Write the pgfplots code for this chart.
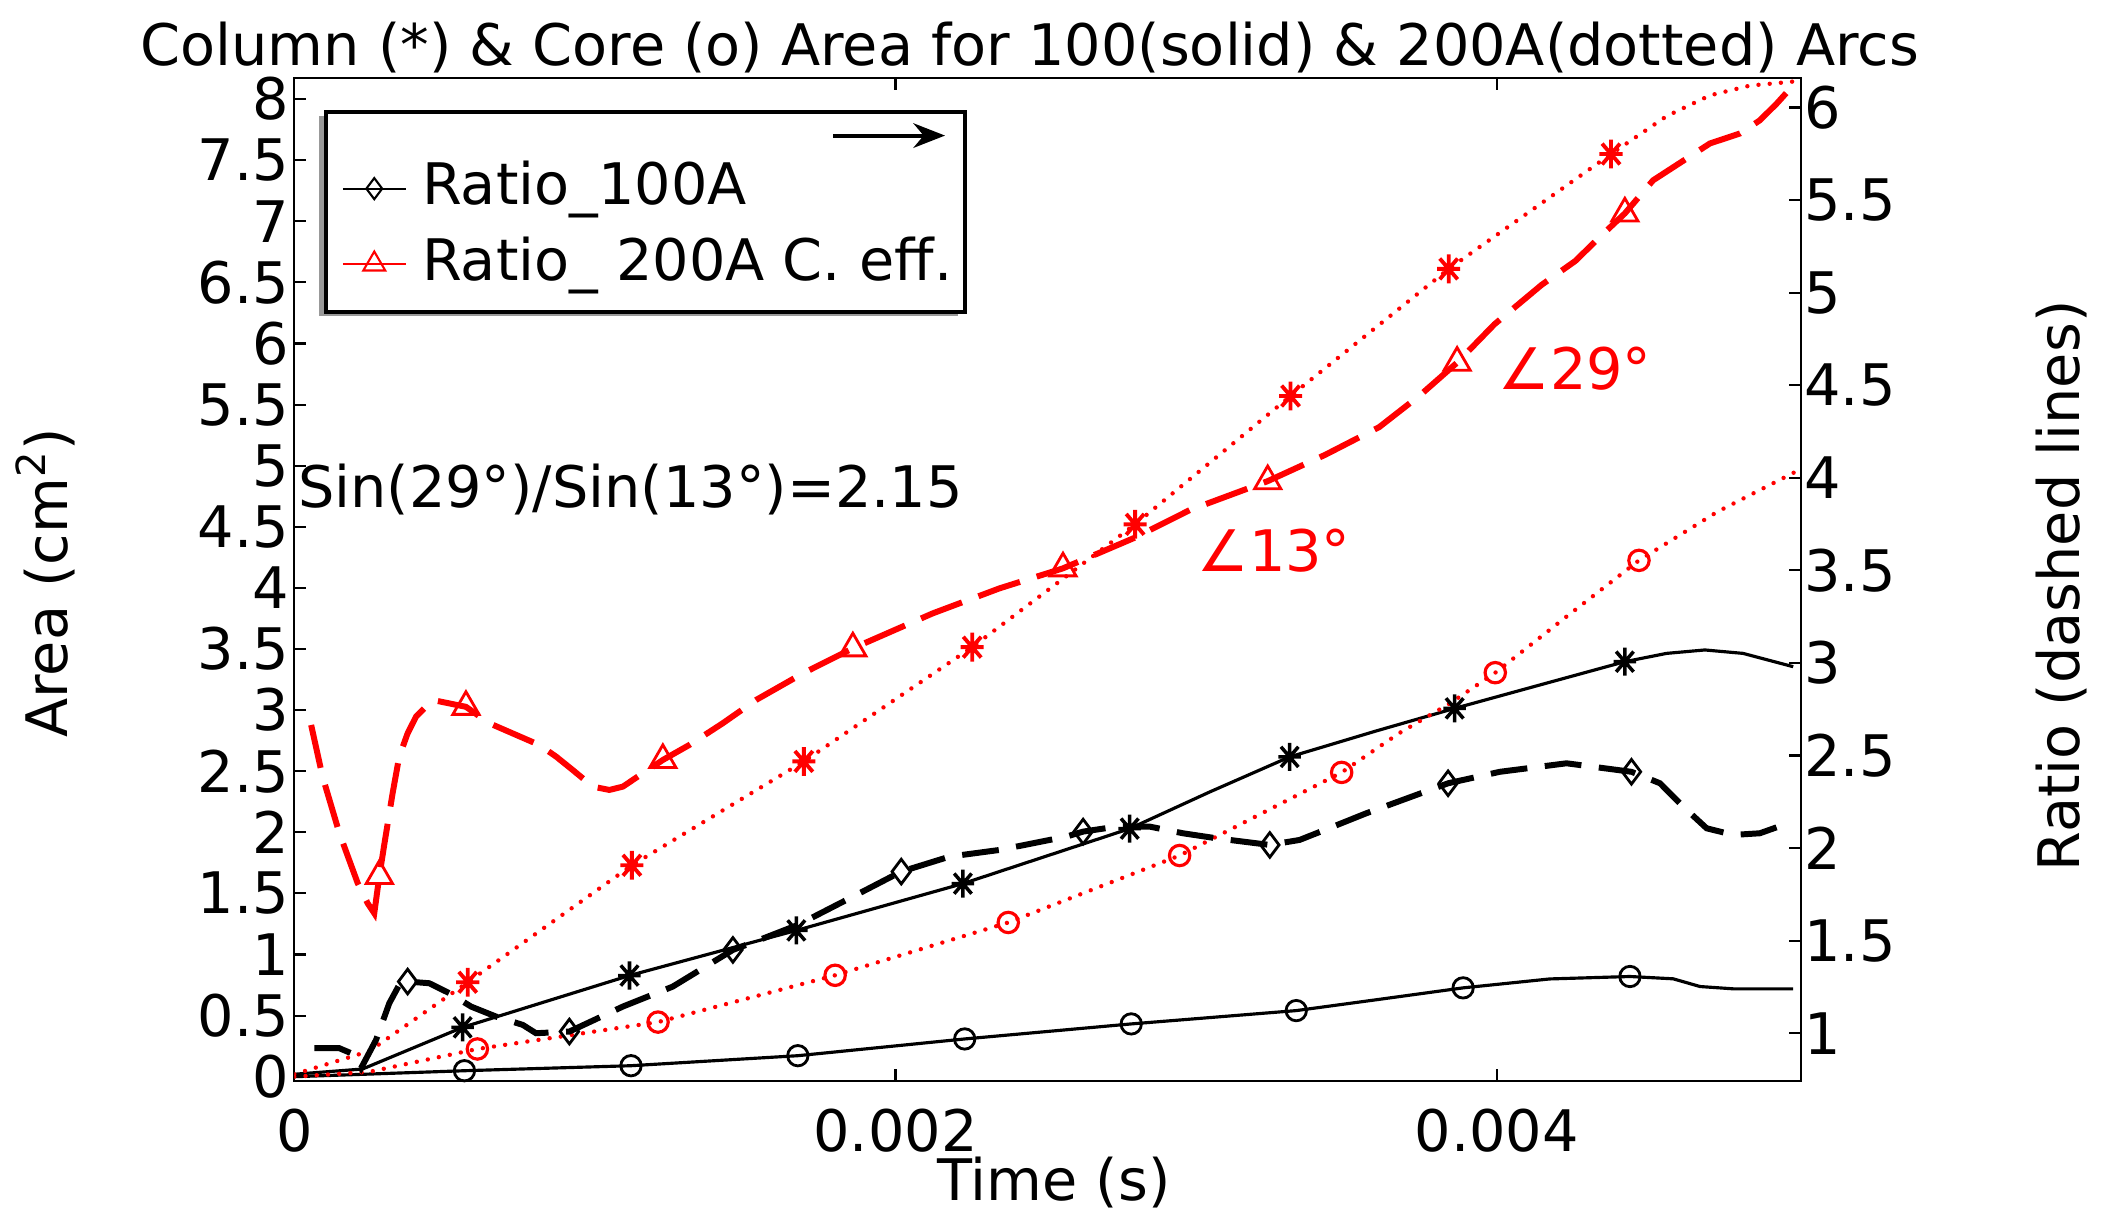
\documentclass[border=0pt]{standalone}
\usepackage{fontspec}
\setmainfont{DejaVu Sans}
\usepackage{pgfplots}
\pgfplotsset{compat=1.18}
\usetikzlibrary{arrows.meta}
\newcommand\fs{\fontsize{16.3}{19.5}\selectfont}
\pgfdeclareplotmark{mstar}{%
  \pgfpathmoveto{\pgfpoint{0pt}{\pgfplotmarksize}}\pgfpathlineto{\pgfpoint{0pt}{-\pgfplotmarksize}}%
  \pgfpathmoveto{\pgfpoint{0.8\pgfplotmarksize}{0pt}}\pgfpathlineto{\pgfpoint{-0.8\pgfplotmarksize}{0pt}}%
  \pgfpathmoveto{\pgfpoint{0.62\pgfplotmarksize}{0.72\pgfplotmarksize}}\pgfpathlineto{\pgfpoint{-0.62\pgfplotmarksize}{-0.72\pgfplotmarksize}}%
  \pgfpathmoveto{\pgfpoint{-0.62\pgfplotmarksize}{0.72\pgfplotmarksize}}\pgfpathlineto{\pgfpoint{0.62\pgfplotmarksize}{-0.72\pgfplotmarksize}}%
  \pgfusepathqstroke}
\pgfplotsset{
  common/.style={at={(2.943cm,1.49cm)}, anchor=south west, scale only axis,
    width=15.067cm, height=10.027cm, xmin=0, xmax=5.012e-3,
    tick align=inside, major tick length=0.12cm,
    tick style={black, line width=0.6pt}, axis line style={line width=0.6pt},
    tick label style={font=\fs}, scaled x ticks=false, scaled y ticks=false,
    /pgf/number format/assume math mode=true},
  dotline/.style={red, line width=1.25pt, line cap=round, dash pattern=on 0pt off 3.2pt},
  solline/.style={black, line width=0.9pt},
  dashblk/.style={black, line width=1.7pt, dash pattern=on 10.5pt off 5pt},
  dashred/.style={red, line width=1.7pt, dash pattern=on 12.5pt off 5pt},
}
\begin{document}
\begin{tikzpicture}[x=1cm,y=1cm]
% legend frame
\fill[black!40] (3.19,9.14) rectangle (9.58,11.14);
\draw[line width=0.9pt, fill=white] (3.26,9.18) rectangle (9.65,11.18);
% ---------------- left axis (Area) ----------------
\begin{axis}[common, ymin=-0.035, ymax=8.17,
  ytick={0,0.5,...,8}, yticklabels={0,0.5,1,1.5,2,2.5,3,3.5,4,4.5,5,5.5,6,6.5,7,7.5,8},
  ytick pos=left, xtick={0,2e-3,4e-3}, xticklabels={0,0.002,0.004},
  xtick pos=both, xticklabel pos=lower,
  yticklabel style={xshift=0.07cm}, xticklabel style={yshift=-0.16cm}]
% Column area 100A (black solid, *)
\addplot[solline] coordinates {(0,0.02) (0.227e-3,0.063) (0.560e-3,0.404) (1.115e-3,0.828)
 (1.670e-3,1.197) (2.224e-3,1.580) (2.779e-3,2.030) (3.045e-3,2.33) (3.311e-3,2.617)
 (3.600e-3,2.83) (3.860e-3,3.014) (4.150e-3,3.21) (4.426e-3,3.396) (4.565e-3,3.464)
 (4.692e-3,3.492) (4.819e-3,3.464) (4.986e-3,3.355)};
\addplot[only marks, mark=mstar, mark size=4pt, black, line width=1pt] coordinates {
 (0.560e-3,0.404) (1.115e-3,0.828) (1.670e-3,1.197) (2.224e-3,1.580) (2.779e-3,2.030)
 (3.311e-3,2.617) (3.860e-3,3.014) (4.426e-3,3.396)};
% Core area 100A (black solid, o)
\addplot[solline] coordinates {(0,0.0) (0.566e-3,0.049) (1.120e-3,0.09) (1.675e-3,0.172)
 (2.230e-3,0.309) (2.784e-3,0.432) (3.333e-3,0.541) (3.600e-3,0.63) (3.888e-3,0.727)
 (4.176e-3,0.80) (4.443e-3,0.820) (4.587e-3,0.801) (4.676e-3,0.738) (4.787e-3,0.719)
 (4.986e-3,0.719)};
\addplot[only marks, mark=o, mark size=2.9pt, black, line width=0.8pt] coordinates {
 (0.566e-3,0.049) (1.120e-3,0.09) (1.675e-3,0.172) (2.230e-3,0.309) (2.784e-3,0.432)
 (3.333e-3,0.541) (3.888e-3,0.727) (4.443e-3,0.820)};
% Column area 200A (red dotted, *)
\addplot[dotline] coordinates {(0,0.02) (0.25e-3,0.21) (0.577e-3,0.773) (1.123e-3,1.73)
 (1.695e-3,2.58) (2.255e-3,3.515) (2.797e-3,4.52) (3.314e-3,5.57) (3.840e-3,6.61)
 (4.380e-3,7.55) (4.565e-3,7.86) (4.709e-3,8.03) (4.842e-3,8.11) (4.975e-3,8.14) (5.01e-3,8.15)};
\addplot[only marks, mark=mstar, mark size=4.1pt, red, line width=1.1pt] coordinates {
 (0.577e-3,0.773) (1.123e-3,1.73) (1.695e-3,2.58) (2.255e-3,3.515) (2.797e-3,4.52)
 (3.314e-3,5.57) (3.840e-3,6.61) (4.380e-3,7.55)};
% Core area 200A (red dotted, o)
\addplot[dotline] coordinates {(0,0.0) (0.25e-3,0.04) (0.609e-3,0.227) (1.210e-3,0.447)
 (1.799e-3,0.83) (2.375e-3,1.262) (2.945e-3,1.81) (3.484e-3,2.49) (3.674e-3,2.809)
 (3.844e-3,3.055) (3.995e-3,3.306) (4.232e-3,3.765) (4.473e-3,4.225) (4.734e-3,4.623)
 (5.004e-3,4.963)};
\addplot[only marks, mark=o, mark size=2.9pt, red, line width=0.9pt] coordinates {
 (0.609e-3,0.227) (1.210e-3,0.447) (1.799e-3,0.83) (2.375e-3,1.262) (2.945e-3,1.81)
 (3.484e-3,2.49) (3.995e-3,3.306) (4.473e-3,4.225)};
\end{axis}
% ---------------- right axis (Ratio) ----------------
\begin{axis}[common, ymin=0.742, ymax=6.158, axis y line*=right, axis x line=none,
  ytick={1,1.5,...,6}, yticklabels={1,1.5,2,2.5,3,3.5,4,4.5,5,5.5,6},
  yticklabel style={xshift=-0.09cm},
  legend cell align=left,
  legend image code/.code={\draw[mark repeat=2,mark phase=2,#1] plot coordinates {(0cm,-0.05cm) (0.315cm,-0.05cm) (0.63cm,-0.05cm)};},
  legend style={at={(axis description cs:0.031,0.9165)}, anchor=north west, draw=none, fill=none,
    inner sep=0pt, row sep=9.6pt, column sep=0.155cm, font=\fs,
    nodes={inner sep=0pt, text height=11.9pt, text depth=0pt}}]
\addlegendimage{black, line width=0.6pt, mark=diamond, mark size=3pt}
\addlegendentry{Ratio\_100A}
\addlegendimage{red, line width=0.6pt, mark=triangle, mark size=3.6pt}
\addlegendentry{Ratio\_ 200A C. eff.}
% Ratio 100A (black dashed, diamond)
\addplot[dashblk, forget plot] coordinates {(0.067e-3,0.919) (0.150e-3,0.919) (0.189e-3,0.892)
 (0.222e-3,0.811) (0.272e-3,0.964) (0.316e-3,1.162) (0.349e-3,1.261) (0.377e-3,1.279)
 (0.449e-3,1.27) (0.516e-3,1.216) (0.588e-3,1.144) (0.671e-3,1.09) (0.760e-3,1.045)
 (0.804e-3,1.0) (0.915e-3,1.009) (1.093e-3,1.144) (1.259e-3,1.252) (1.459e-3,1.45)
 (1.547e-3,1.504) (1.675e-3,1.585) (1.880e-3,1.756) (2.019e-3,1.873) (2.180e-3,1.954)
 (2.346e-3,1.99) (2.568e-3,2.062) (2.624e-3,2.089) (2.735e-3,2.116) (2.845e-3,2.116)
 (2.956e-3,2.08) (3.067e-3,2.053) (3.245e-3,2.017) (3.344e-3,2.044) (3.400e-3,2.08)
 (3.566e-3,2.188) (3.838e-3,2.35) (4.010e-3,2.412) (4.232e-3,2.458) (4.448e-3,2.412)
 (4.543e-3,2.35) (4.620e-3,2.224) (4.698e-3,2.107) (4.787e-3,2.071) (4.875e-3,2.08)
 (4.953e-3,2.125)};
\addplot[only marks, mark=diamond, mark size=3.5pt, black, line width=0.8pt, forget plot] coordinates {
 (0.377e-3,1.279) (0.915e-3,1.009) (1.459e-3,1.45) (2.019e-3,1.873) (2.624e-3,2.089)
 (3.245e-3,2.017) (3.838e-3,2.35) (4.448e-3,2.412)};
% Ratio 200A (red dashed, triangle)
\addplot[dashred, forget plot] coordinates {(0.056e-3,2.665) (0.094e-3,2.386) (0.150e-3,2.080)
 (0.211e-3,1.810) (0.244e-3,1.702) (0.266e-3,1.648) (0.283e-3,1.85) (0.300e-3,2.026)
 (0.327e-3,2.296) (0.349e-3,2.494) (0.377e-3,2.62) (0.405e-3,2.71) (0.460e-3,2.80)
 (0.571e-3,2.763) (0.649e-3,2.674) (0.815e-3,2.557) (0.871e-3,2.494) (0.926e-3,2.422)
 (0.993e-3,2.332) (1.048e-3,2.314) (1.093e-3,2.332) (1.159e-3,2.404) (1.226e-3,2.476)
 (1.314e-3,2.557) (1.425e-3,2.674) (1.536e-3,2.80) (1.692e-3,2.944) (1.858e-3,3.079)
 (2.124e-3,3.268) (2.346e-3,3.403) (2.557e-3,3.511) (2.795e-3,3.676) (2.979e-3,3.826)
 (3.238e-3,3.982) (3.429e-3,4.124) (3.609e-3,4.274) (3.744e-3,4.445) (3.868e-3,4.622)
 (3.992e-3,4.829) (4.149e-3,5.042) (4.261e-3,5.171) (4.343e-3,5.301) (4.426e-3,5.428)
 (4.520e-3,5.607) (4.709e-3,5.806) (4.809e-3,5.86) (4.875e-3,5.931) (4.931e-3,6.021)
 (4.986e-3,6.12)};
\addplot[only marks, mark=triangle, mark size=4.3pt, red, line width=0.8pt, forget plot] coordinates {
 (0.283e-3,1.85) (0.571e-3,2.763) (1.226e-3,2.476) (1.858e-3,3.079) (2.557e-3,3.511)
 (3.238e-3,3.982) (3.868e-3,4.622) (4.426e-3,5.428)};
\end{axis}
% annotations
\draw[-{Stealth[length=9pt,width=7pt]}, line width=1.1pt] (8.33,10.944) -- (9.45,10.944);
\node[anchor=base west, font=\fs, inner sep=0pt] at (1.40,11.648) {Column (*) \& Core (o) Area for 100(solid) \& 200A(dotted) Arcs};
\node[anchor=base west, font=\fs, inner sep=0pt] at (2.974,7.22) {Sin(29°)/Sin(13°)=2.15};
\node[anchor=base west, font=\fs, inner sep=0pt, text=red] at (14.98,8.405) {∠29°};
\node[anchor=base west, font=\fs, inner sep=0pt, text=red] at (11.97,6.586) {∠13°};
\node[anchor=base, rotate=90, font=\fs, inner sep=0pt] at (0.676,6.47) {Area (cm\textsuperscript{2})};
\node[anchor=base, rotate=90, font=\fs, inner sep=0pt] at (20.79,6.44) {Ratio (dashed lines)};
\node[anchor=base, font=\fs, inner sep=0pt] at (10.54,0.29) {Time (s)};
\pgfresetboundingbox
\useasboundingbox (0,0) rectangle (21.15,12.3);
\end{tikzpicture}
\end{document}
